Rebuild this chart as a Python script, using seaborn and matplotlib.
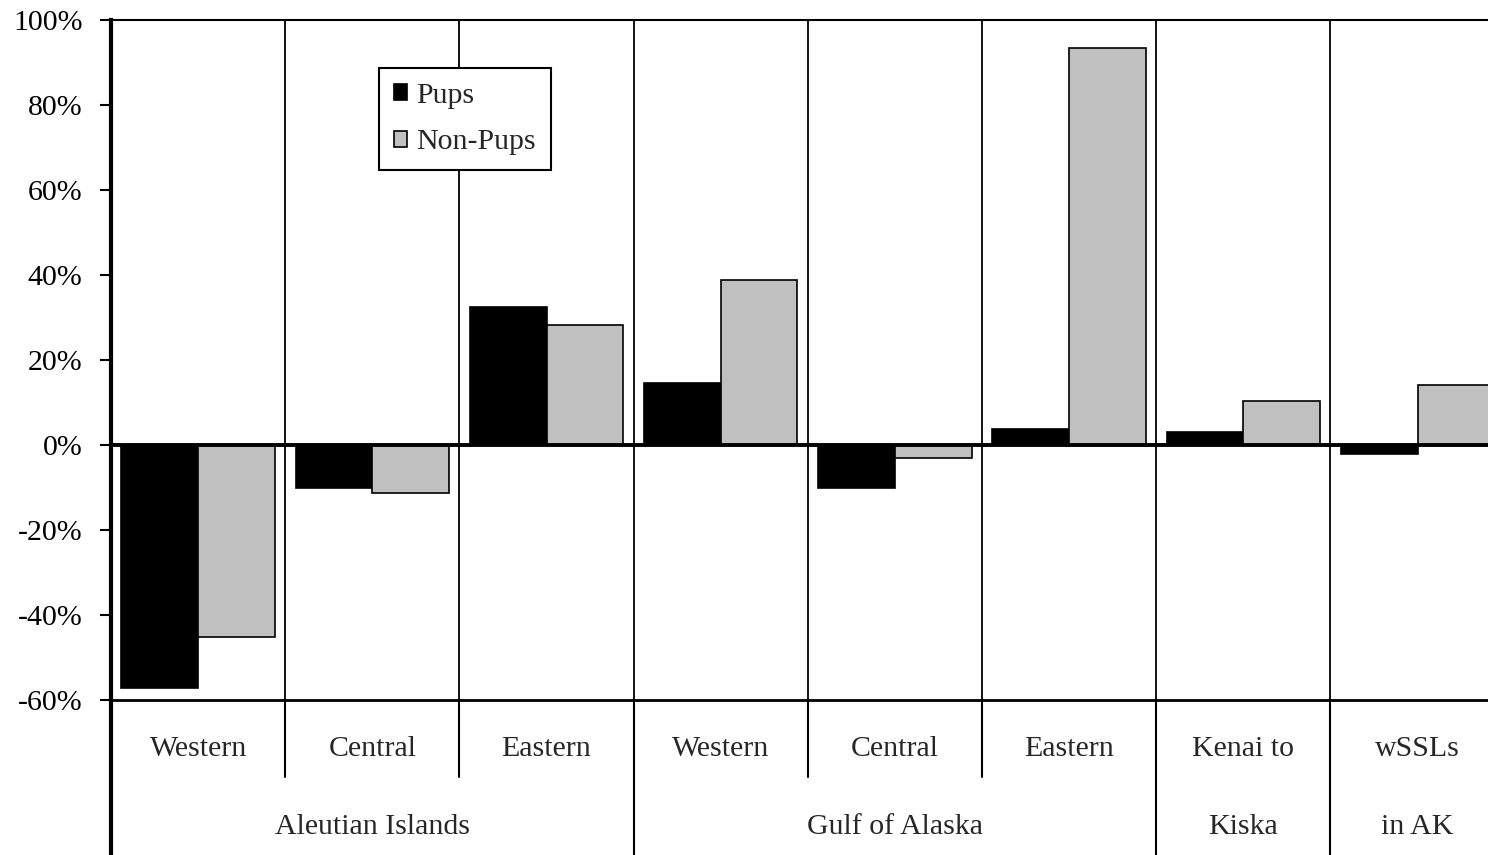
import matplotlib
matplotlib.use("Agg")
import matplotlib.pyplot as plt
import matplotlib.transforms as mtransforms
from matplotlib.ticker import FuncFormatter
import seaborn as sns
import pandas as pd

sns.set_theme(style="white")
plt.rcParams['font.family'] = ['Liberation Serif', 'DejaVu Serif']

regions = ["AI Western", "AI Central", "AI Eastern", "GOA Western", "GOA Central",
           "GOA Eastern", "Kenai to Kiska", "wSSLs in AK"]
row1_labels = ["Western", "Central", "Eastern", "Western", "Central", "Eastern", "Kenai to", "wSSLs"]
group_labels = ["Aleutian Islands", "Gulf of Alaska", "Kiska", "in AK"]
group_spans = [(0, 3), (3, 6), (6, 7), (7, 8)]
pups = [-57.2, -10.1, 32.5, 14.6, -10.1, 3.8, 3.1, -2.1]
non_pups = [-45.2, -11.3, 28.2, 38.8, -3.1, 93.4, 10.4, 14.1]
series = ["Pups", "Non-Pups"]
yticks = [-60, -40, -20, 0, 20, 40, 60, 80, 100]

df = pd.DataFrame({
    "region": regions * 2,
    "value": pups + non_pups,
    "age": [series[0]] * len(regions) + [series[1]] * len(regions),
})

W, H = 1488, 855
fig = plt.figure(figsize=(W / 100, H / 100), dpi=100)
cat_w = 174.2
ax = fig.add_axes([111 / W, (H - 700) / H, 8 * cat_w / W, 680 / H])

sns.barplot(data=df, x="region", y="value", hue="age", order=regions,
            hue_order=series, palette=["#000000", "#C0C0C0"], width=0.88,
            edgecolor="black", linewidth=1.2, saturation=1, ax=ax, legend=True)

ax.set_ylim(-60, 100)
ax.set_xlim(-0.5, 7.5)
ax.set_yticks(yticks)
ax.yaxis.set_major_formatter(FuncFormatter(lambda v, p: f"{int(v)}%"))
ax.tick_params(axis="y", direction="out", length=8, width=1.5, labelsize=21.5,
               left=True, pad=12.5, colors="black")
ax.tick_params(axis="x", bottom=False, labelbottom=False)
ax.set_xlabel("")
ax.set_ylabel("")

ax.spines["left"].set_linewidth(3)
ax.spines["top"].set_linewidth(1.5)
ax.spines["bottom"].set_linewidth(2)
ax.spines["right"].set_visible(False)
for s in ax.spines.values():
    s.set_color("black")

ax.axhline(0, color="black", lw=2.8, zorder=5)
for i in range(7):
    ax.axvline(i + 0.5, color="black", lw=1.3, zorder=0.5)

# Category table below the axes
trans = mtransforms.blended_transform_factory(ax.transData, fig.transFigure)
y700 = (H - 700) / H
y777 = (H - 777) / H
y_row1 = (H - 749) / H
y_row2 = (H - 827) / H
group_edges = {0, 3, 6, 7}
for b in range(0, 8):
    x = b - 0.5
    y_end = 0.0 if b in group_edges else y777
    lw = 3 if b == 0 else 1.5
    ax.plot([x, x], [y700, y_end], color="black", lw=lw, transform=trans, clip_on=False)
for i, lab in enumerate(row1_labels):
    ax.text(i, y_row1, lab, transform=trans, ha="center", va="center", fontsize=21.5)
for lab, (a, b) in zip(group_labels, group_spans):
    ax.text((a + b - 1) / 2, y_row2, lab, transform=trans, ha="center", va="center", fontsize=21.5)

leg = ax.legend(loc="upper left", bbox_to_anchor=((379 - 111) / (8 * cat_w), 1 - 48 / 680),
                frameon=True, fancybox=False, fontsize=21.5, handlelength=0.45,
                handleheight=0.45, handletextpad=0.3, labelspacing=0.68,
                borderpad=0.5, borderaxespad=0, title=None)
leg.get_frame().set_edgecolor("black")
leg.get_frame().set_linewidth(1.5)
leg.get_frame().set_facecolor("white")
leg.get_frame().set_alpha(1)

fig.savefig("out.png", dpi=100)
